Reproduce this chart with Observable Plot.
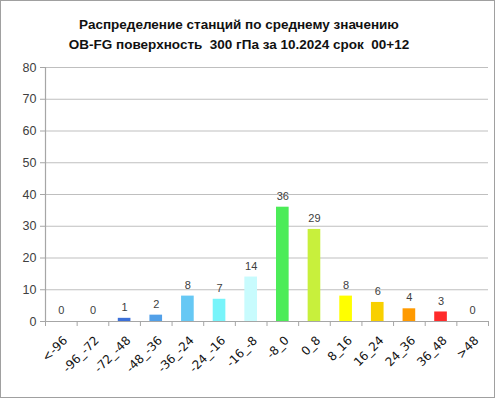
<!DOCTYPE html>
<html>
<head>
<meta charset="utf-8">
<script src="https://cdn.jsdelivr.net/npm/d3@7"></script>
<script src="https://cdn.jsdelivr.net/npm/@observablehq/plot@0.6"></script>
<style>
  html, body { margin: 0; padding: 0; background: #fff; }
  #wrap { position: relative; width: 496px; height: 399px; overflow: hidden; }
  #frame { position: absolute; left: 0; top: 0; width: 493px; height: 396px; border: 1px solid #a0a0a0; pointer-events: none; }
  #title { position: absolute; left: 0; top: 15px; width: 478px; text-align: center;
    font: bold 13.5px "Liberation Sans", Arial, sans-serif; line-height: 20px; color: #111; }
  #chart { position: absolute; left: 0; top: 0; }
</style>
</head>
<body>
<div id="wrap">
  <div id="chart"></div>
  <div id="title">Распределение станций по среднему значению<br>OB-FG поверхность&nbsp; 300 гПа за 10.2024 срок&nbsp; 00+12</div>
  <div id="frame"></div>
</div>
<script>
const categories = ["<-96","-96_-72","-72_-48","-48_-36","-36_-24","-24_-16","-16_-8","-8_0","0_8","8_16","16_24","24_36","36_48",">48"];
const counts = [0,0,1,2,8,7,14,36,29,8,6,4,3,0];
const colors = ["#2040b0","#2a55c4","#3c70d8","#52a0e8","#66c8f4","#78f4fa","#c8fbfd","#4cec58","#c8f03c","#ffff00","#f8d000","#ff9a00","#ff2a2a","#c00000"];
const yTicks = [0,10,20,30,40,50,60,70,80];

const data = categories.map((c, i) => ({i, c, v: counts[i], col: colors[i]}));
const n = categories.length;

const plot = Plot.plot({
  width: 496,
  height: 399,
  marginLeft: 45,
  marginRight: 8,
  marginTop: 67,
  marginBottom: 78,
  style: {fontFamily: '"Liberation Sans", Arial, sans-serif', fontSize: "12px", color: "#404040", background: "transparent"},
  x: {domain: [0, n], axis: null},
  y: {domain: [0, 80], axis: null},
  marks: [
    Plot.ruleY(yTicks.filter(d => d > 0), {stroke: "#bfbfbf", strokeWidth: 1.2}),
    Plot.rectY(data, {x: "i", interval: 1, y: "v", fill: "col", insetLeft: 9.5, insetRight: 9.5}),
    Plot.ruleY([0], {stroke: "#a6a6a6", strokeWidth: 1.2}),
    Plot.ruleX([0], {stroke: "#a6a6a6", strokeWidth: 1.2}),
    Plot.axisY({ticks: yTicks, tickSize: 5, tickPadding: 4, stroke: "#a6a6a6", fill: "#404040", fontSize: 12.5, label: null}),
    Plot.axisX({ticks: d3.range(n + 1), tickFormat: () => "", tickSize: 5, stroke: "#a6a6a6", label: null}),
    Plot.axisX({ticks: d3.range(n).map(i => i + 0.5), tickFormat: d => categories[Math.floor(d)], tickSize: 0, tickPadding: 17, dx: 4, tickRotate: -45, fill: "#111", fontSize: 12, fontFamily: '"DejaVu Sans", Verdana, sans-serif', label: null}),
    Plot.text(data, {x: d => d.i + 0.5, y: "v", text: d => String(d.v), dy: -11, fill: "#404040", fontSize: 11})
  ]
});
document.getElementById("chart").appendChild(plot);
</script>
</body>
</html>
